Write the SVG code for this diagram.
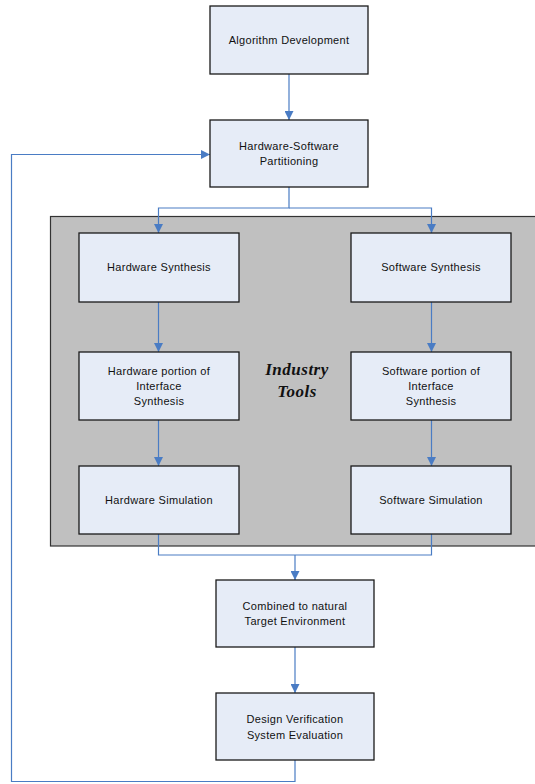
<svg xmlns="http://www.w3.org/2000/svg" width="535" height="784" viewBox="0 0 535 784">
<defs>
<style>
.box{fill:#e6ecf7;stroke:#1a1a1a;stroke-width:1.3}
.t{font-family:"Liberation Sans",Arial,sans-serif;font-size:11px;fill:#111;text-anchor:middle;letter-spacing:0.3px}
.c{fill:none;stroke:#4a7cc4;stroke-width:1.2}
.it{font-family:"Liberation Serif","Times New Roman",serif;font-size:17px;font-weight:bold;font-style:italic;fill:#111;text-anchor:middle;letter-spacing:0.5px}
</style>
<marker id="ah" viewBox="0 0 10 10" refX="10" refY="5" markerWidth="9" markerHeight="9" markerUnits="userSpaceOnUse" orient="auto">
<path d="M0,0 L10,5 L0,10 z" fill="#4a7cc4"/>
</marker>
</defs>
<rect x="0" y="0" width="535" height="784" fill="#fff"/>
<g id="industry-tools">
<rect x="50.5" y="216.5" width="490" height="329.5" fill="#c0c0c0" stroke="#333" stroke-width="1.2"/>
<text class="it" x="297" y="375">Industry</text>
<text class="it" x="297" y="397">Tools</text>
</g>
<g id="connectors">
<line class="c" x1="289" y1="74" x2="289" y2="120" marker-end="url(#ah)"/>
<polyline class="c" points="289,187 289,208 158.5,208 158.5,233" marker-end="url(#ah)"/>
<polyline class="c" points="289,208 431.5,208 431.5,233" marker-end="url(#ah)"/>
<line class="c" x1="158.5" y1="302" x2="158.5" y2="352" marker-end="url(#ah)"/>
<line class="c" x1="431.5" y1="302" x2="431.5" y2="352" marker-end="url(#ah)"/>
<line class="c" x1="158.5" y1="420" x2="158.5" y2="466" marker-end="url(#ah)"/>
<line class="c" x1="431.5" y1="420" x2="431.5" y2="466" marker-end="url(#ah)"/>
<polyline class="c" points="158.5,534 158.5,555 431.5,555 431.5,534"/>
<line class="c" x1="295" y1="555" x2="295" y2="580" marker-end="url(#ah)"/>
<line class="c" x1="295" y1="647" x2="295" y2="693" marker-end="url(#ah)"/>
<polyline class="c" points="295,760 295,781.5 11.5,781.5 11.5,154.5 210,154.5" marker-end="url(#ah)"/>
</g>
<g id="algorithm-development">
<rect class="box" x="210" y="6" width="158" height="68"/>
<text class="t" x="289" y="44">Algorithm Development</text>
</g>
<g id="hw-sw-partitioning">
<rect class="box" x="210" y="120" width="158" height="67"/>
<text class="t" x="289" y="150">Hardware-Software</text>
<text class="t" x="289" y="165">Partitioning</text>
</g>
<g id="hardware-synthesis">
<rect class="box" x="79" y="233" width="160" height="69"/>
<text class="t" x="159" y="271">Hardware Synthesis</text>
</g>
<g id="software-synthesis">
<rect class="box" x="351" y="233" width="160" height="69"/>
<text class="t" x="431" y="271">Software Synthesis</text>
</g>
<g id="hardware-interface">
<rect class="box" x="79" y="352" width="160" height="68"/>
<text class="t" x="159" y="375">Hardware portion of</text>
<text class="t" x="159" y="390">Interface</text>
<text class="t" x="159" y="405">Synthesis</text>
</g>
<g id="software-interface">
<rect class="box" x="351" y="352" width="160" height="68"/>
<text class="t" x="431" y="375">Software portion of</text>
<text class="t" x="431" y="390">Interface</text>
<text class="t" x="431" y="405">Synthesis</text>
</g>
<g id="hardware-simulation">
<rect class="box" x="79" y="466" width="160" height="68"/>
<text class="t" x="159" y="504">Hardware Simulation</text>
</g>
<g id="software-simulation">
<rect class="box" x="351" y="466" width="160" height="68"/>
<text class="t" x="431" y="504">Software Simulation</text>
</g>
<g id="combined">
<rect class="box" x="216" y="580" width="158" height="67"/>
<text class="t" x="295" y="610">Combined to natural</text>
<text class="t" x="295" y="625">Target Environment</text>
</g>
<g id="design-verification">
<rect class="box" x="216" y="693" width="158" height="67"/>
<text class="t" x="295" y="723">Design Verification</text>
<text class="t" x="295" y="739">System Evaluation</text>
</g>
</svg>
